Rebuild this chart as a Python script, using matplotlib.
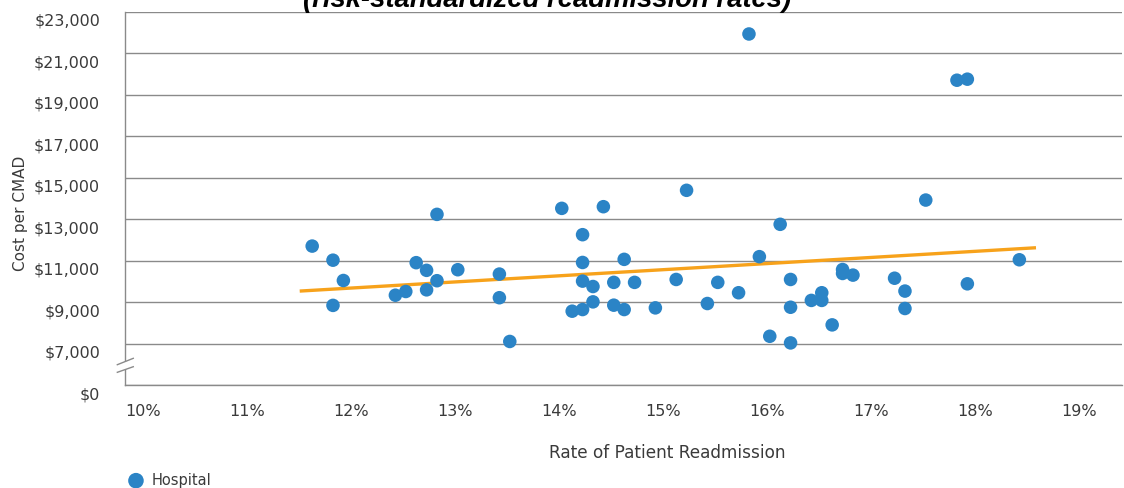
import matplotlib
matplotlib.use("Agg")
import matplotlib.pyplot as plt
import matplotlib.transforms as mtransforms
from matplotlib.patches import Rectangle

# readmission rate (%) and cost per CMAD ($) for each hospital
rates = [
    11.8, 12.0, 12.1, 12.0, 12.6, 12.7, 12.8, 12.9, 12.9, 13.0,
    13.0, 13.2, 13.6, 13.6, 13.7, 14.2, 14.3, 14.4, 14.4, 14.4,
    14.4, 14.5, 14.5, 14.6, 14.7, 14.7, 14.8, 14.8, 14.9, 15.1,
    15.3, 15.4, 15.6, 15.7, 15.9, 16.0, 16.1, 16.2, 16.3, 16.4,
    16.4, 16.4, 16.6, 16.7, 16.7, 16.8, 16.9, 16.9, 17.0, 17.4,
    17.5, 17.5, 17.7, 18.0, 18.1, 18.1, 18.6,
]
costs = [
    11700, 11020, 10040, 8840, 9330, 9510, 10900, 10530, 9590, 13230,
    10030, 10560, 10350, 9210, 7100, 13520, 8560, 12250, 10910, 10010,
    8640, 9750, 9010, 13600, 9950, 8850, 11060, 8640, 9950, 8720,
    10090, 14390, 8930, 9950, 9450, 21930, 11190, 7350, 12750, 10090,
    8750, 7030, 9080, 9450, 9080, 7900, 10570, 10380, 10300, 10150,
    9530, 8690, 13920, 19700, 19750, 9880, 11040,
]

# trendline end points as drawn in the chart
trend_rates = [11.68, 18.76]
trend_costs = [9530, 11620]

x_ticks = [10, 11, 12, 13, 14, 15, 16, 17, 18, 19]
x_tick_labels = ["10%", "11%", "12%", "13%", "14%", "15%", "16%", "17%", "18%", "19%"]
# the bottom of the axis is broken: 5000 on the scale is shown as $0
y_ticks = [5000, 7000, 9000, 11000, 13000, 15000, 17000, 19000, 21000, 23000]
y_tick_labels = ["$0", "$7,000", "$9,000", "$11,000", "$13,000", "$15,000",
                 "$17,000", "$19,000", "$21,000", "$23,000"]

W, H = 1124, 489
BLUE = "#2B84C6"
ORANGE = "#F7A21B"
GRID = "#8a8a8a"
TEXT = "#3a3a3a"


def plot_readmission():
    """Scatter of cost per CMAD against readmission rate."""
    fig = plt.figure(figsize=(W / 100, H / 100), dpi=100)
    ax = fig.add_axes([125 / W, 1 - 386 / H, 997 / W, (386 - 12.8) / H])

    ax.plot(trend_rates, trend_costs, color=ORANGE, lw=2.4, zorder=2,
            solid_capstyle="butt")
    sc = ax.scatter(rates, costs, s=95, color=BLUE, edgecolors="none",
                    zorder=3, label="Hospital")

    ax.set_xlim(10, 19.587)
    ax.set_ylim(5000, 23000)
    ax.set_xticks(x_ticks)
    ax.set_xticklabels(x_tick_labels, ha="left")
    ax.set_yticks(y_ticks)
    ax.set_yticklabels(y_tick_labels)
    ax.tick_params(axis="both", length=0, labelsize=11.5, labelcolor=TEXT)
    ax.tick_params(axis="y", pad=18)
    ax.tick_params(axis="x", pad=13)

    # y labels sit a little below their gridline
    shift = mtransforms.ScaledTranslation(0, -0.07, fig.dpi_scale_trans)
    for lab in ax.get_yticklabels():
        lab.set_transform(lab.get_transform() + shift)

    ax.grid(axis="y", color=GRID, lw=1.0)
    ax.set_axisbelow(True)
    for side in ["top", "right"]:
        ax.spines[side].set_visible(False)
    for side in ["left", "bottom"]:
        ax.spines[side].set_color(GRID)
        ax.spines[side].set_linewidth(1.0)

    # axis break marks
    ax.add_patch(Rectangle((-0.004, 0.045), 0.008, 0.016,
                           transform=ax.transAxes, color="white",
                           clip_on=False, zorder=5))
    for y0, y1 in [(0.0544, 0.0715), (0.034, 0.049)]:
        ax.plot([-0.0077, 0.0083], [y0, y1], transform=ax.transAxes,
                color=GRID, lw=1.0, clip_on=False, zorder=6)

    fig.text(667 / W, 1 - 453 / H, "Rate of Patient Readmission",
             ha="center", va="center", fontsize=12.2, color=TEXT)
    fig.text(21 / W, 1 - 213 / H, "Cost per CMAD", rotation=90,
             ha="center", va="center", fontsize=11, color=TEXT)
    # title is cropped by the top edge in the original chart
    fig.text(547 / W, 1 - 7 / H, "(risk-standardized readmission rates)",
             ha="center", va="baseline", fontsize=19.8, fontweight="bold",
             fontstyle="italic", family="Liberation Sans", color="black")

    fig.legend(handles=[sc], loc="center left",
               bbox_to_anchor=(117 / W, 1 - 481 / H), frameon=False,
               fontsize=10.5, labelcolor=TEXT, handletextpad=0.45,
               borderpad=0.2, handlelength=1.2, markerscale=1.15)

    fig.savefig("out.png", dpi=100)


def main():
    plot_readmission()


if __name__ == "__main__":
    main()
